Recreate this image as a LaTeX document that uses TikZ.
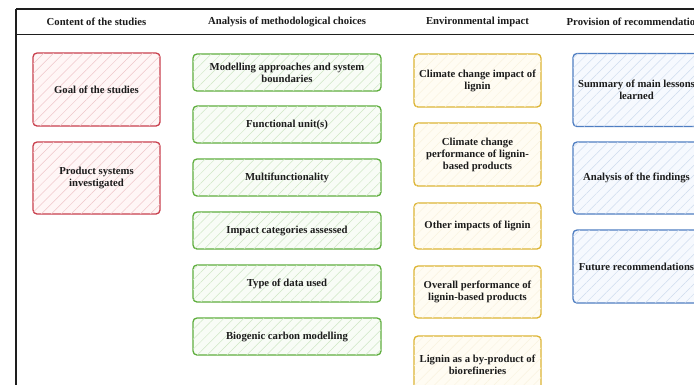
\documentclass[tikz,border=0pt]{standalone}
\usepackage{fontspec}
\setmainfont{Liberation Serif}
\usetikzlibrary{patterns.meta}
\definecolor{txt}{HTML}{1C1C1C}
\definecolor{frame}{HTML}{1E1E1E}
\definecolor{cred}{HTML}{C9404E}
\definecolor{credf}{HTML}{FFF6F6}
\definecolor{cgreen}{HTML}{5FAE3E}
\definecolor{cgreenf}{HTML}{F8FCF6}
\definecolor{cyel}{HTML}{DDB535}
\definecolor{cyelf}{HTML}{FFFCF3}
\definecolor{cblue}{HTML}{4F7EC2}
\definecolor{cbluef}{HTML}{F6F9FE}
\tikzset{
  card/.style={draw, rounded corners=4pt, line width=1.3pt, align=center,
    font=\fontsize{10.7}{12}\selectfont\bfseries, text=txt, inner sep=1pt},
  hatch/.style={postaction={pattern={Lines[angle=45,distance=7pt,line width=0.5pt]}, pattern color=#1}},
  redbox/.style={card, draw=cred, fill=credf, hatch=cred!30, minimum width=127pt},
  greenbox/.style={card, draw=cgreen, fill=cgreenf, hatch=cgreen!30, minimum width=188pt, minimum height=37pt},
  yelbox/.style={card, draw=cyel, fill=cyelf, hatch=cyel!16, minimum width=127pt},
  bluebox/.style={card, draw=cblue, fill=cbluef, hatch=cblue!28, minimum width=127pt},
  head/.style={font=\fontsize{10.7}{12}\selectfont\bfseries, text=txt},
  rule/.style={draw=frame}
}
\begin{document}
\begin{tikzpicture}[x=1pt,y=-1pt]
\useasboundingbox (0,0) rectangle (694,384);
\clip (0,0) rectangle (694,384);
\fill[white] (0,0) rectangle (694,384);
% frame
\coordinate (tl) at (16,9);
\coordinate (tr) at (700,9);
\coordinate (hl) at (16,34.5);
\coordinate (hr) at (700,34.5);
\coordinate (bl) at (16,390);
\draw[rule, line width=1.8pt] (tl) -- (tr);
\draw[rule, line width=1.5pt] (hl) -- (hr);
\draw[rule, line width=1.2pt] (tl) -- (bl);
% headers
\node[head] (h1) at (96.5,22) {Content of the studies};
\node[head] (h2) at (287,22) {Analysis of methodological choices};
\node[head] (h3) at (477.5,22) {Environmental impact};
\node[head] (h4) at (636,22) {Provision of recommendations};
% red
\node[redbox, minimum height=73pt] (goal) at (96.5,89.5) {Goal of the studies};
\node[redbox, minimum height=72pt] (prod) at (96.5,178) {Product systems\\investigated};
% green
\node[greenbox] (mod) at (287,72.5) {Modelling approaches and system\\boundaries};
\node[greenbox] (fu) at (287,124.5) {Functional unit(s)};
\node[greenbox] (multi) at (287,177.5) {Multifunctionality};
\node[greenbox] (impc) at (287,230.5) {Impact categories assessed};
\node[greenbox] (data) at (287,283.5) {Type of data used};
\node[greenbox] (bio) at (287,336.5) {Biogenic carbon modelling};
% yellow
\node[yelbox, minimum height=53pt] (cci) at (477.5,80.5) {Climate change impact of\\lignin};
\node[yelbox, minimum height=63pt] (ccp) at (477.5,154.5) {Climate change\\performance of lignin-\\based products};
\node[yelbox, minimum height=46pt] (oth) at (477.5,226) {Other impacts of lignin};
\node[yelbox, minimum height=52pt] (ovr) at (477.5,292) {Overall performance of\\lignin-based products};
\node[yelbox, minimum height=57pt] (byp) at (477.5,364.5) {Lignin as a by-product of\\biorefineries};
% blue
\node[bluebox, minimum height=73pt] (sum) at (636.5,90) {Summary of main lessons\\learned};
\node[bluebox, minimum height=72pt] (ana) at (636.5,178) {Analysis of the findings};
\node[bluebox, minimum height=73pt] (fut) at (636.5,266.5) {Future recommendations};
\end{tikzpicture}
\end{document}
